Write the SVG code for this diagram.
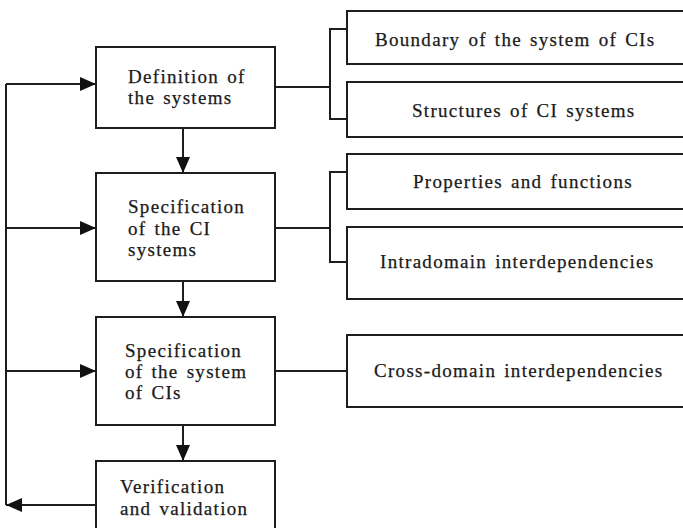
<svg xmlns="http://www.w3.org/2000/svg" width="683" height="528" viewBox="0 0 683 528">
  <style>
    .box { fill: #ffffff; stroke: #1e1e1e; stroke-width: 2; }
    .wire { fill: none; stroke: #1e1e1e; stroke-width: 2; }
    .lbl { font-family: "Liberation Serif", "Times New Roman", serif; font-size: 19px; fill: #1a1a1a; stroke: #1a1a1a; stroke-width: 0.25; letter-spacing: 1.3px; word-spacing: 2px; }
  </style>
  <defs>
    <marker id="arrow" viewBox="0 0 16 14" refX="16" refY="7" markerWidth="16" markerHeight="14" markerUnits="userSpaceOnUse" orient="auto">
      <path d="M0,0 L16,7 L0,14 Z" fill="#111111"/>
    </marker>
  </defs>
  <rect width="683" height="528" fill="#ffffff"/>

  <!-- connectors -->
  <g id="connectors">
    <!-- feedback loop on the left -->
    <path class="wire" d="M6,505 V84" />
    <path class="wire" d="M96,505 H6" marker-end="url(#arrow)"/>
    <path class="wire" d="M6,84 H96" marker-end="url(#arrow)"/>
    <path class="wire" d="M6,228 H96" marker-end="url(#arrow)"/>
    <path class="wire" d="M6,371 H96" marker-end="url(#arrow)"/>
    <!-- main flow -->
    <path class="wire" d="M183,128 V173" marker-end="url(#arrow)"/>
    <path class="wire" d="M183,281 V317" marker-end="url(#arrow)"/>
    <path class="wire" d="M183,425 V461" marker-end="url(#arrow)"/>
    <!-- brackets to the detail boxes -->
    <path class="wire" d="M275,87 H330 M347,29 H330 V119 H347" />
    <path class="wire" d="M275,228 H330 M347,172 H330 V262 H347" />
    <path class="wire" d="M275,371 H347" />
  </g>

  <!-- process steps -->
  <g id="step-definition">
    <rect class="box" x="96" y="47" width="179" height="81"/>
    <text class="lbl" x="128" y="83">Definition of</text>
    <text class="lbl" x="128" y="104">the systems</text>
  </g>
  <g id="step-spec-ci">
    <rect class="box" x="96" y="173" width="179" height="108"/>
    <text class="lbl" x="128" y="213">Specification</text>
    <text class="lbl" x="128" y="235">of the CI</text>
    <text class="lbl" x="128" y="256">systems</text>
  </g>
  <g id="step-spec-system">
    <rect class="box" x="96" y="317" width="179" height="108"/>
    <text class="lbl" x="125" y="357">Specification</text>
    <text class="lbl" x="125" y="378">of the system</text>
    <text class="lbl" x="125" y="399">of CIs</text>
  </g>
  <g id="step-verification">
    <rect class="box" x="96" y="461" width="179" height="80"/>
    <text class="lbl" x="120" y="493">Verification</text>
    <text class="lbl" x="120" y="515">and validation</text>
  </g>

  <!-- detail boxes -->
  <g id="boundary">
    <rect class="box" x="347" y="11" width="350" height="53"/>
    <text class="lbl" x="375" y="46">Boundary of the system of CIs</text>
  </g>
  <g id="structures">
    <rect class="box" x="347" y="82" width="350" height="55"/>
    <text class="lbl" x="412" y="117">Structures of CI systems</text>
  </g>
  <g id="properties">
    <rect class="box" x="347" y="154" width="350" height="55"/>
    <text class="lbl" x="413" y="188">Properties and functions</text>
  </g>
  <g id="intradomain">
    <rect class="box" x="347" y="227" width="350" height="72"/>
    <text class="lbl" x="380" y="268">Intradomain interdependencies</text>
  </g>
  <g id="crossdomain">
    <rect class="box" x="347" y="335" width="350" height="72"/>
    <text class="lbl" x="374" y="377">Cross-domain interdependencies</text>
  </g>
</svg>
